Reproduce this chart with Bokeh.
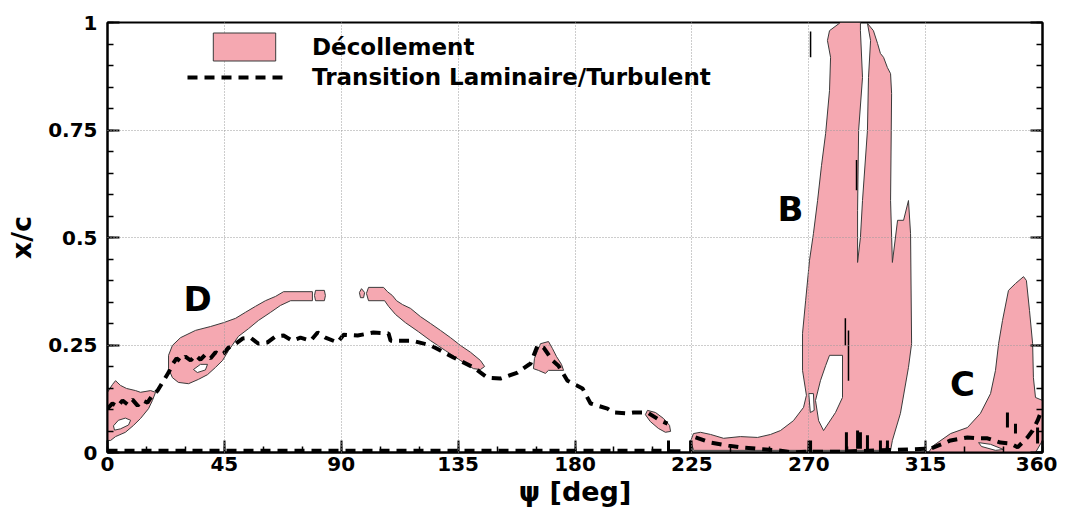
from bokeh.plotting import figure
from bokeh.models import (Range1d, FixedTicker, LinearAxis, Legend, LegendItem,
                          NumeralTickFormatter, CustomJSTickFormatter)
from bokeh.core.properties import value
from bokeh.embed import file_html
from bokeh.resources import INLINE

FONT = "DejaVu Sans"
PINK = "#F5A8B1"

# ---------------- tick values ----------------
x_ticks = [0, 45, 90, 135, 180, 225, 270, 315, 360]
x_minor = list(range(0, 361, 15))
y_ticks = [0, 0.25, 0.5, 0.75, 1.0]
y_minor = [round(i * 0.05, 2) for i in range(21)]

# ---------------- separation regions (psi [deg], x/c) ----------------
A_psi = [0, 1.9, 3.1, 5.0, 7.3, 10.8, 12.7, 16.6, 18.5, 17.3, 15.8, 12.7, 10.0, 6.9, 3.1, 1.2, 0]
A_xc = [0.140, 0.158, 0.167, 0.156, 0.149, 0.144, 0.140, 0.144, 0.140, 0.121, 0.102, 0.079, 0.063, 0.047, 0.037, 0.028, 0.028]
A_hole_psi = [2.3, 4.2, 6.9, 8.9, 8.1, 5.0, 2.7]
A_hole_xc = [0.062, 0.075, 0.080, 0.075, 0.064, 0.055, 0.052]

D_psi = [23.5, 25.0, 28.1, 33.9, 39.7, 44.7, 49.3, 53.1, 57.0, 60.8, 64.7, 67.8, 78.9, 78.9, 70.5, 66.6,
         62.8, 58.1, 54.3, 50.4, 46.6, 44.3, 41.6, 38.5, 35.0, 31.2, 27.3, 25.0, 23.5]
D_xc = [0.226, 0.249, 0.267, 0.284, 0.293, 0.302, 0.312, 0.326, 0.340, 0.353, 0.363, 0.374, 0.374, 0.353, 0.353, 0.342,
        0.326, 0.307, 0.288, 0.270, 0.237, 0.214, 0.198, 0.181, 0.170, 0.160, 0.163, 0.174, 0.195]
D_hole_psi = [33.1, 35.8, 38.5, 37.7, 34.6]
D_hole_xc = [0.193, 0.205, 0.205, 0.192, 0.186]
Dblk_psi = [80.1, 83.5, 83.9, 83.5, 80.1, 79.7]
Dblk_xc = [0.377, 0.377, 0.365, 0.353, 0.353, 0.365]

Eoval_psi = [97.8, 99.0, 98.6, 97.4, 97.0]
Eoval_xc = [0.381, 0.372, 0.360, 0.360, 0.372]
E_psi = [100.5, 106.3, 107.8, 109.7, 111.3, 113.6, 116.7, 120.5, 124.4, 128.2, 132.1, 135.9, 139.8, 143.6,
         145.2, 143.6, 140.9, 135.9, 130.1, 124.4, 119.7, 114.7, 110.9, 108.2, 106.7, 100.5, 99.7]
E_xc = [0.384, 0.384, 0.374, 0.365, 0.353, 0.344, 0.335, 0.316, 0.300, 0.284, 0.267, 0.249, 0.233, 0.214,
        0.200, 0.193, 0.195, 0.214, 0.237, 0.260, 0.281, 0.302, 0.321, 0.340, 0.353, 0.353, 0.370]

F_psi = [164.0, 164.4, 165.6, 166.7, 169.8, 171.3, 172.9, 174.8, 175.6, 169.8, 168.6, 165.9]
F_xc = [0.195, 0.219, 0.237, 0.253, 0.258, 0.242, 0.223, 0.205, 0.191, 0.191, 0.184, 0.191]

G_psi = [207.9, 211.0, 214.1, 216.4, 216.8, 214.8, 212.1, 209.0, 207.1]
G_xc = [0.098, 0.093, 0.079, 0.063, 0.049, 0.047, 0.056, 0.072, 0.088]

B_psi = [225.6, 224.5, 225.6, 228.3, 232.2, 237.2, 243.7, 250.3, 255.3, 259.1, 264.1, 268.0, 269.1, 267.6,
         267.6, 268.8, 270.3, 271.8, 273.4, 274.9, 276.5, 278.0, 278.4, 277.2, 278.0, 282.2, 289.9, 289.9,
         290.7, 289.2, 288.8, 288.8, 289.9, 290.7, 292.6, 293.0, 293.8, 292.6, 294.9, 296.5, 297.6, 298.8,
         300.3, 301.5, 301.9, 301.5, 302.2, 304.2, 306.5, 308.4, 309.2, 309.6, 308.4, 305.3, 302.2, 301.5, 225.6]
B_xc = [0.007, 0.026, 0.044, 0.047, 0.042, 0.033, 0.037, 0.035, 0.042, 0.051, 0.074, 0.105, 0.133, 0.191,
        0.277, 0.353, 0.447, 0.509, 0.586, 0.667, 0.742, 0.842, 0.919, 0.958, 0.981, 1.0, 1.0, 0.981,
        0.872, 0.749, 0.563, 0.442, 0.500, 0.586, 0.749, 0.872, 0.958, 0.998, 0.981, 0.951, 0.928, 0.919,
        0.895, 0.881, 0.835, 0.586, 0.442, 0.540, 0.540, 0.586, 0.509, 0.253, 0.198, 0.091, 0.028, 0.005, 0.005]
B_hole_psi = [278.0, 283.0, 283.0, 280.3, 275.7, 273.8, 272.6, 274.5, 276.5]
B_hole_xc = [0.226, 0.226, 0.128, 0.093, 0.051, 0.074, 0.121, 0.167, 0.202]
B_sliver_psi = [270.0, 271.8, 272.1, 270.6]
B_sliver_xc = [0.137, 0.137, 0.098, 0.093]

C_psi = [316.1, 318.0, 324.6, 331.1, 336.1, 340.0, 341.9, 343.1, 344.6, 346.9, 349.6, 352.7, 353.8, 355.0,
         356.2, 356.5, 357.3, 360.0, 360.0, 357.3]
C_xc = [0.0, 0.016, 0.044, 0.058, 0.091, 0.137, 0.191, 0.253, 0.307, 0.377, 0.393, 0.409, 0.400, 0.330,
        0.253, 0.174, 0.128, 0.121, 0.028, 0.0]
C_hole_psi = [335.4, 340.0, 345.0, 341.9, 336.5]
C_hole_xc = [0.023, 0.019, 0.007, 0.005, 0.014]

# ---------------- laminar/turbulent transition ----------------
tr1_psi = [0.0, 1.9, 3.9, 5.8, 7.7, 9.6, 11.6, 13.5, 15.4, 17.3, 19.3, 21.6, 23.5,
           25.0, 26.6, 28.1, 30.0, 32.0, 33.9, 35.8, 37.7, 39.7, 41.6, 43.5, 44.7, 46.6,
           48.5, 52.0, 55.1, 58.1, 61.6, 64.7, 67.8, 71.2, 74.3, 78.2, 80.9, 83.9, 88.6, 90.9,
           96.3, 102.4, 108.2, 109.0, 117.4, 124.4, 128.2, 133.2, 140.9, 146.3, 151.3, 157.9,
           162.9, 165.6, 167.9, 171.3, 173.6, 177.1, 182.9, 186.0, 188.7, 192.5, 194.8, 200.2,
           202.5, 207.9, 212.9, 215.6]
tr1_xc = [0.102, 0.114, 0.107, 0.121, 0.112, 0.123, 0.109, 0.121, 0.116, 0.133, 0.144, 0.167, 0.186,
          0.205, 0.219, 0.212, 0.223, 0.214, 0.226, 0.216, 0.228, 0.219, 0.233, 0.226, 0.230, 0.244,
          0.249, 0.265, 0.267, 0.253, 0.256, 0.270, 0.272, 0.260, 0.267, 0.260, 0.279, 0.267, 0.256, 0.274,
          0.272, 0.279, 0.277, 0.260, 0.260, 0.249, 0.237, 0.221, 0.198, 0.174, 0.172, 0.186,
          0.207, 0.249, 0.244, 0.214, 0.202, 0.167, 0.149, 0.114, 0.109, 0.102, 0.093, 0.091,
          0.093, 0.093, 0.074, 0.067]
tr2_psi = [226.4, 232.2, 239.1, 243.7, 249.5, 258.0, 264.1, 270.7, 282.2, 297.6, 316.9, 321.9, 324.6,
           331.1, 335.0, 338.8, 343.8, 347.7, 350.4, 354.2, 356.2, 358.1, 359.2, 360.0]
tr2_xc = [0.035, 0.023, 0.016, 0.012, 0.009, 0.005, 0.0, 0.002, 0.002, 0.005, 0.009, 0.021, 0.028,
          0.035, 0.033, 0.033, 0.023, 0.021, 0.012, 0.035, 0.051, 0.074, 0.091, 0.098]
low_psi = [0.0, 216.0]
low_xc = [0.004, 0.004]

spike_psi = [216.0, 224.5, 270.7, 284.5, 288.8, 289.9, 292.6, 297.6, 300.3, 346.5, 349.6, 358.1]
spike_lo = [0.0, 0.0, 0.0, 0.0, 0.009, 0.009, 0.005, 0.0, 0.0, 0.058, 0.044, 0.021]
spike_hi = [0.028, 0.028, 0.028, 0.047, 0.051, 0.047, 0.040, 0.028, 0.028, 0.093, 0.067, 0.058]
foot_psi0 = [216.0]
foot_psi1 = [220.6]
foot_xc = [0.004]

thin_psi = [270.7, 288.4, 284.1, 285.3]
thin_lo = [0.919, 0.610, 0.249, 0.167]
thin_hi = [0.979, 0.680, 0.312, 0.284]

lab_psi = [263.0, 329.2, 34.7]
lab_xc = [0.567, 0.160, 0.358]
lab_txt = ["B", "C", "D"]

# ---------------- figure ----------------
p = figure(width=1057, height=512, output_backend="svg", toolbar_location=None,
           x_range=Range1d(0, 360), y_range=Range1d(0, 1),
           min_border_left=107, min_border_right=15, min_border_top=22, min_border_bottom=60,
           x_axis_label="ψ [deg]", y_axis_label="x/c")
p.background_fill_color = "white"
p.border_fill_color = "white"
p.outline_line_color = "black"
p.outline_line_width = 2

xticker = FixedTicker(ticks=x_ticks, minor_ticks=x_minor)
yticker = FixedTicker(ticks=y_ticks, minor_ticks=y_minor)
p.xaxis.ticker = xticker
p.yaxis.ticker = yticker
p.yaxis.formatter = NumeralTickFormatter(format="0.[00]")


def style_axis(ax):
    ax.axis_line_width = 2
    ax.axis_line_color = "black"
    ax.major_tick_in = 12
    ax.major_tick_out = 0
    ax.minor_tick_in = 6
    ax.minor_tick_out = 0
    ax.major_tick_line_width = 2
    ax.minor_tick_line_width = 1.5
    ax.major_tick_line_color = "black"
    ax.minor_tick_line_color = "black"
    ax.major_label_text_font = FONT
    ax.major_label_text_font_style = "bold"
    ax.major_label_text_font_size = "20px"
    ax.major_label_text_color = "black"
    ax.axis_label_text_font = FONT
    ax.axis_label_text_font_style = "bold"
    ax.axis_label_text_color = "black"


for ax in list(p.xaxis) + list(p.yaxis):
    style_axis(ax)
p.xaxis.major_label_standoff = 4
p.xaxis.axis_label_standoff = 2
p.xaxis.axis_label_text_font_size = "27px"
p.yaxis.major_label_standoff = 10
p.yaxis.axis_label_standoff = 8
p.yaxis.axis_label_text_font_size = "27px"

# mirrored right axis: ticks only
rax = LinearAxis(ticker=yticker, formatter=CustomJSTickFormatter(code="return ''"),
                 major_label_standoff=0)
style_axis(rax)
p.add_layout(rax, "right")

for g, t in ((p.xgrid, xticker), (p.ygrid, yticker)):
    g.ticker = t
    g.grid_line_color = "#9a9a9a"
    g.grid_line_dash = "1 2"
    g.grid_line_width = 1
    g.level = "overlay"

sep_xs = [[[A_psi, A_hole_psi]], [[D_psi, D_hole_psi]], [[Dblk_psi]], [[Eoval_psi]], [[E_psi]],
          [[F_psi]], [[G_psi]], [[B_psi, B_hole_psi, B_sliver_psi]], [[C_psi, C_hole_psi]]]
sep_ys = [[[A_xc, A_hole_xc]], [[D_xc, D_hole_xc]], [[Dblk_xc]], [[Eoval_xc]], [[E_xc]],
          [[F_xc]], [[G_xc]], [[B_xc, B_hole_xc, B_sliver_xc]], [[C_xc, C_hole_xc]]]
mp = p.multi_polygons(xs=sep_xs, ys=sep_ys, fill_color=PINK, line_color="#3a3a3a", line_width=1)

tr = p.multi_line(xs=[tr1_psi, tr2_psi, low_psi], ys=[tr1_xc, tr2_xc, low_xc],
                  line_color="black", line_width=4, line_dash="10 7")
p.segment(x0=spike_psi, y0=spike_lo, x1=spike_psi, y1=spike_hi, line_color="black", line_width=3)
p.segment(x0=foot_psi0, y0=foot_xc, x1=foot_psi1, y1=foot_xc, line_color="black", line_width=3)
p.segment(x0=thin_psi, y0=thin_lo, x1=thin_psi, y1=thin_hi, line_color="black", line_width=1.5)

p.text(x=lab_psi, y=lab_xc, text=lab_txt, text_font=value(FONT), text_font_style="bold",
       text_font_size="34px", text_align="center", text_baseline="middle", text_color="black")

leg1 = Legend(items=[LegendItem(label="Décollement", renderers=[mp])], location=(98, 388),
              glyph_width=78, glyph_height=35, label_height=35, label_standoff=29)
leg2 = Legend(items=[LegendItem(label="Transition Laminaire/Turbulent", renderers=[tr])],
              location=(80, 361), glyph_width=100, glyph_height=28, label_height=28, label_standoff=25)
for lg in (leg1, leg2):
    lg.padding = 0
    lg.margin = 0
    lg.spacing = 0
    lg.border_line_color = None
    lg.background_fill_alpha = 0
    lg.label_text_font = FONT
    lg.label_text_font_style = "bold"
    lg.label_text_font_size = "23px"
    lg.label_text_color = "black"
    p.add_layout(lg)

open("out.html", "w").write(file_html(p, INLINE))
